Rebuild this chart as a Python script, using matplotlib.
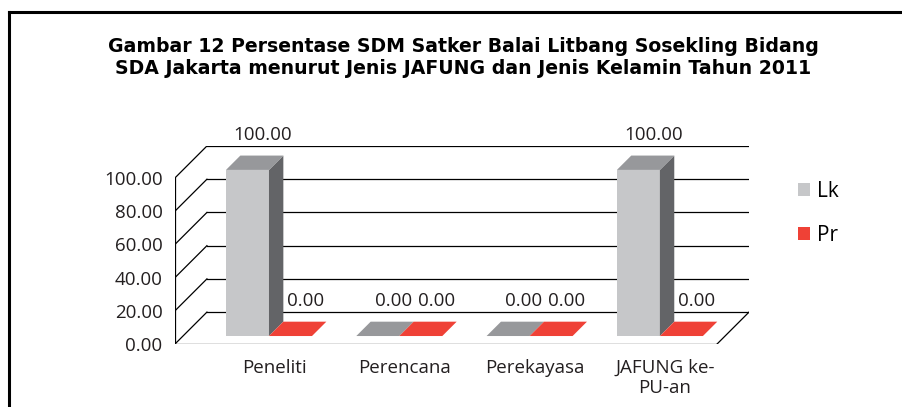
import matplotlib
matplotlib.use('Agg')
from matplotlib import pyplot as plt
from matplotlib.patches import Polygon, Patch
from matplotlib.lines import Line2D

plt.rcParams['font.family'] = 'Open Sans'

# data
categories = ['Peneliti', 'Perencana', 'Perekayasa', 'JAFUNG ke-\nPU-an']
lk = [100.0, 0.0, 0.0, 100.0]
pr = [0.0, 0.0, 0.0, 0.0]
series_names = ['Lk', 'Pr']
y_ticks = [0, 20, 40, 60, 80, 100]

title = ('Gambar 12 Persentase SDM Satker Balai Litbang Sosekling Bidang\n'
         'SDA Jakarta menurut Jenis JAFUNG dan Jenis Kelamin Tahun 2011')

# colours: front, side, top
lk_col = ('#c6c7c9', '#636467', '#97989b')
pr_col = ('#ef4136', '#a82a22', '#ef4136')

# pseudo 3d geometry (data units)
X0, X1 = -0.66, 3.5     # floor front edge
DX, DY = 0.245, 19.2    # depth of the walls
W = 0.33                # bar width
F0, FD = 0.25, 0.45     # bar depth start / depth extent (fraction of wall depth)

W_PX, H_PX = 903, 407
fig = plt.figure(figsize=(W_PX / 100, H_PX / 100), dpi=100)
ax = fig.add_axes([175 / W_PX, (H_PX - 344) / H_PX, (749 - 175) / W_PX, (344 - 146) / H_PX])
ax.set_xlim(X0, X1 + DX)
ax.set_ylim(0, 100 + DY)
for s in ax.spines.values():
    s.set_visible(False)

# walls / grid
lw = 0.9
ax.plot([X0, X0], [0, 100], color='black', lw=lw, zorder=1)
for v in y_ticks:
    ax.plot([X0, X0 + DX], [v, v + DY], color='black', lw=lw, zorder=1)
    ax.plot([X0 + DX, X1 + DX], [v + DY, v + DY], color='black', lw=lw, zorder=1)
ax.plot([X0, X1], [0, 0], color='black', lw=lw, zorder=1)
ax.plot([X1, X1 + DX], [0, DY], color='black', lw=lw, zorder=1)


def bar3d(x0, v, cols, z):
    bx, by = x0 + F0 * DX, F0 * DY
    ddx, ddy = FD * DX, FD * DY
    if v > 0:
        ax.add_patch(Polygon([(bx, by), (bx + W, by), (bx + W, by + v), (bx, by + v)],
                             closed=True, fc=cols[0], ec='none', zorder=z))
        ax.add_patch(Polygon([(bx + W, by), (bx + W + ddx, by + ddy),
                              (bx + W + ddx, by + ddy + v), (bx + W, by + v)],
                             closed=True, fc=cols[1], ec='none', zorder=z))
    ax.add_patch(Polygon([(bx, by + v), (bx + W, by + v),
                          (bx + W + ddx, by + ddy + v), (bx + ddx, by + ddy + v)],
                         closed=True, fc=cols[2], ec='none', zorder=z))


for i in range(len(categories)):
    bar3d(i - W, lk[i], lk_col, 3 + 2 * i)
    bar3d(i, pr[i], pr_col, 4 + 2 * i)
    for xc, v in [(i - W / 2, lk[i]), (i + W / 2, pr[i])]:
        ax.text(xc + 0.18, v + 26, '%.2f' % v, ha='center', va='center',
                fontsize=13.5, color='#231f20', zorder=20)

ax.set_yticks(y_ticks)
ax.set_yticklabels(['%.2f' % v for v in y_ticks], fontsize=13.5, color='#231f20')
ax.set_xticks([i + 0.1 for i in range(len(categories))])
ax.set_xticklabels(categories, fontsize=13.5, color='#231f20', linespacing=1.15)
ax.tick_params(axis='y', length=0, pad=9)
ax.tick_params(axis='x', length=0, pad=11)

handles = [Patch(fc=lk_col[0], ec='none'), Patch(fc=pr_col[0], ec='none')]
fig.legend(handles, series_names, loc='upper left', bbox_to_anchor=(798 / W_PX, 1 - 181 / H_PX),
           frameon=False, fontsize=15, handlelength=0.6, handleheight=0.6,
           handletextpad=0.3, labelspacing=1.1, borderpad=0, borderaxespad=0)

fig.text(463 / W_PX, 1 - 57.5 / H_PX, title, ha='center', va='center',
         fontsize=13.6, fontweight='bold', family='DejaVu Sans', linespacing=1.2,
         color='black')

# outer frame (top and left edges)
fig.add_artist(Line2D([9 / W_PX, 1], [1 - 11.5 / H_PX, 1 - 11.5 / H_PX], color='black', lw=2.2))
fig.add_artist(Line2D([9 / W_PX, 9 / W_PX], [0, 1 - 11.5 / H_PX], color='black', lw=2.2))

fig.savefig('out.png', dpi=100)
